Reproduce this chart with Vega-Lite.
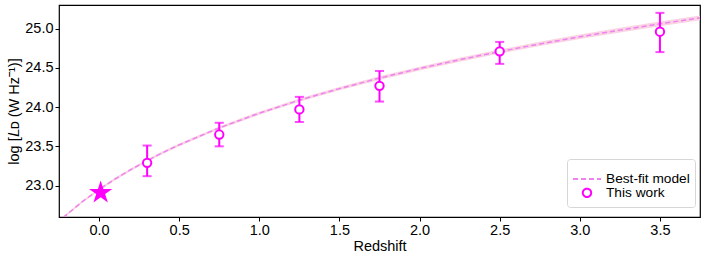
{
  "$schema": "https://vega.github.io/schema/vega-lite/v6.json",
  "width": 641,
  "height": 212,
  "autosize": "none",
  "padding": {"left": 59, "top": 5, "right": 6, "bottom": 43},
  "config": {
    "font": "Liberation Sans",
    "view": {"stroke": "#000000", "strokeWidth": 1.2},
    "axis": {
      "domain": false, "grid": false, "ticks": true, "tickColor": "#000000", "tickSize": 4,
      "labelFontSize": 14.5, "labelColor": "#000000", "titleFontSize": 14.5, "titleColor": "#000000",
      "titleFontWeight": "normal", "labelPadding": 2
    },
    "legend": {
      "labelFontSize": 13.7, "labelColor": "#000000", "labelFont": "Liberation Sans"
    }
  },
  "datasets": {
    "model": [
      {"z": -0.25, "series": "Best-fit model", "fit": 22.505, "lo": 22.49, "hi": 22.52},
      {"z": -0.22, "series": "Best-fit model", "fit": 22.60, "lo": 22.585, "hi": 22.615},
      {"z": -0.1, "series": "Best-fit model", "fit": 22.802, "lo": 22.787, "hi": 22.817},
      {"z": 0.0, "series": "Best-fit model", "fit": 22.95, "lo": 22.935, "hi": 22.965},
      {"z": 0.1, "series": "Best-fit model", "fit": 23.084, "lo": 23.068, "hi": 23.10},
      {"z": 0.2, "series": "Best-fit model", "fit": 23.206, "lo": 23.19, "hi": 23.222},
      {"z": 0.3, "series": "Best-fit model", "fit": 23.318, "lo": 23.301, "hi": 23.335},
      {"z": 0.4, "series": "Best-fit model", "fit": 23.422, "lo": 23.405, "hi": 23.439},
      {"z": 0.5, "series": "Best-fit model", "fit": 23.519, "lo": 23.501, "hi": 23.537},
      {"z": 0.75, "series": "Best-fit model", "fit": 23.735, "lo": 23.716, "hi": 23.754},
      {"z": 1.0, "series": "Best-fit model", "fit": 23.922, "lo": 23.902, "hi": 23.942},
      {"z": 1.25, "series": "Best-fit model", "fit": 24.088, "lo": 24.067, "hi": 24.109},
      {"z": 1.5, "series": "Best-fit model", "fit": 24.235, "lo": 24.213, "hi": 24.257},
      {"z": 1.75, "series": "Best-fit model", "fit": 24.369, "lo": 24.346, "hi": 24.392},
      {"z": 2.0, "series": "Best-fit model", "fit": 24.491, "lo": 24.467, "hi": 24.515},
      {"z": 2.25, "series": "Best-fit model", "fit": 24.603, "lo": 24.578, "hi": 24.628},
      {"z": 2.5, "series": "Best-fit model", "fit": 24.707, "lo": 24.681, "hi": 24.733},
      {"z": 2.75, "series": "Best-fit model", "fit": 24.804, "lo": 24.777, "hi": 24.831},
      {"z": 3.0, "series": "Best-fit model", "fit": 24.895, "lo": 24.867, "hi": 24.923},
      {"z": 3.25, "series": "Best-fit model", "fit": 24.98, "lo": 24.951, "hi": 25.009},
      {"z": 3.5, "series": "Best-fit model", "fit": 25.06, "lo": 25.03, "hi": 25.09},
      {"z": 3.75, "series": "Best-fit model", "fit": 25.136, "lo": 25.105, "hi": 25.167}
    ],
    "obs": [
      {"z": 0.3, "series": "This work", "L": 23.29, "lo": 23.12, "hi": 23.51},
      {"z": 0.75, "series": "This work", "L": 23.65, "lo": 23.50, "hi": 23.80},
      {"z": 1.25, "series": "This work", "L": 23.97, "lo": 23.81, "hi": 24.13},
      {"z": 1.75, "series": "This work", "L": 24.27, "lo": 24.07, "hi": 24.46},
      {"z": 2.5, "series": "This work", "L": 24.71, "lo": 24.55, "hi": 24.83},
      {"z": 3.5, "series": "This work", "L": 24.96, "lo": 24.70, "hi": 25.20}
    ],
    "local": [
      {"z": 0.01, "L": 22.91}
    ]
  },
  "layer": [
    {
      "data": {"name": "model"},
      "mark": {"type": "area", "color": "#f9cfe0", "opacity": 0.9, "clip": true},
      "encoding": {
        "x": {"field": "z", "type": "quantitative", "scale": {"domain": [-0.25, 3.75], "nice": false, "zero": false},
              "axis": {"values": [0, 0.5, 1, 1.5, 2, 2.5, 3, 3.5], "format": ".1f", "title": "Redshift", "titlePadding": 3}},
        "y": {"field": "lo", "type": "quantitative", "scale": {"domain": [22.6, 25.3], "nice": false, "zero": false},
              "axis": {"values": [23, 23.5, 24, 24.5, 25], "format": ".1f", "title": "log [𝐿ᴅ (W Hz⁻¹)]", "titlePadding": 3}},
        "y2": {"field": "hi"}
      }
    },
    {
      "data": {"name": "model"},
      "mark": {"type": "line", "strokeWidth": 1.5, "clip": true},
      "encoding": {
        "x": {"field": "z", "type": "quantitative"},
        "y": {"field": "fit", "type": "quantitative"},
        "color": {"field": "series", "type": "nominal",
                  "scale": {"domain": ["Best-fit model", "This work"], "range": ["#ee82ee", "#ff00ff"]},
                  "legend": {"title": null, "orient": "none", "legendX": 508, "legendY": 154, "padding": 5,
                             "strokeColor": "#d6d6d6", "fillColor": "#ffffff", "cornerRadius": 3,
                             "symbolStrokeWidth": 2, "rowPadding": -5, "labelOffset": 4}},
        "strokeDash": {"field": "series", "type": "nominal",
                       "scale": {"domain": ["Best-fit model", "This work"], "range": [[5, 3], [1, 0]]},
                       "legend": {"title": null}}
      }
    },
    {
      "data": {"name": "obs"},
      "mark": {"type": "rule", "color": "#ff00ff", "strokeWidth": 2},
      "encoding": {
        "x": {"field": "z", "type": "quantitative"},
        "y": {"field": "lo", "type": "quantitative"},
        "y2": {"field": "hi"}
      }
    },
    {
      "data": {"name": "obs"},
      "mark": {"type": "tick", "orient": "horizontal", "color": "#ff00ff", "thickness": 2, "size": 9},
      "encoding": {
        "x": {"field": "z", "type": "quantitative"},
        "y": {"field": "lo", "type": "quantitative"}
      }
    },
    {
      "data": {"name": "obs"},
      "mark": {"type": "tick", "orient": "horizontal", "color": "#ff00ff", "thickness": 2, "size": 9},
      "encoding": {
        "x": {"field": "z", "type": "quantitative"},
        "y": {"field": "hi", "type": "quantitative"}
      }
    },
    {
      "data": {"name": "obs"},
      "mark": {"type": "point", "filled": false, "fill": "#ffffff", "fillOpacity": 1, "strokeWidth": 2, "opacity": 1},
      "encoding": {
        "x": {"field": "z", "type": "quantitative"},
        "y": {"field": "L", "type": "quantitative"},
        "color": {"field": "series", "type": "nominal"},
        "shape": {"field": "series", "type": "nominal",
                  "scale": {"domain": ["Best-fit model", "This work"], "range": ["stroke", "circle"]},
                  "legend": {"title": null}},
        "size": {"field": "series", "type": "nominal",
                 "scale": {"domain": ["Best-fit model", "This work"], "range": [784, 70]},
                 "legend": {"title": null}}
      }
    },
    {
      "data": {"name": "local"},
      "mark": {"type": "point", "filled": true, "color": "#ff00ff", "opacity": 1, "size": 600,
               "shape": "M0,-1L0.2245,-0.309L0.951,-0.309L0.363,0.118L0.588,0.809L0,0.382L-0.588,0.809L-0.363,0.118L-0.951,-0.309L-0.2245,-0.309Z"},
      "encoding": {
        "x": {"field": "z", "type": "quantitative"},
        "y": {"field": "L", "type": "quantitative"}
      }
    },
    {
      "mark": {"type": "text", "text": "(E)", "align": "left", "baseline": "middle", "fontSize": 13, "color": "#000000"},
      "encoding": {
        "x": {"datum": -0.175},
        "y": {"datum": 25.07}
      }
    }
  ]
}
